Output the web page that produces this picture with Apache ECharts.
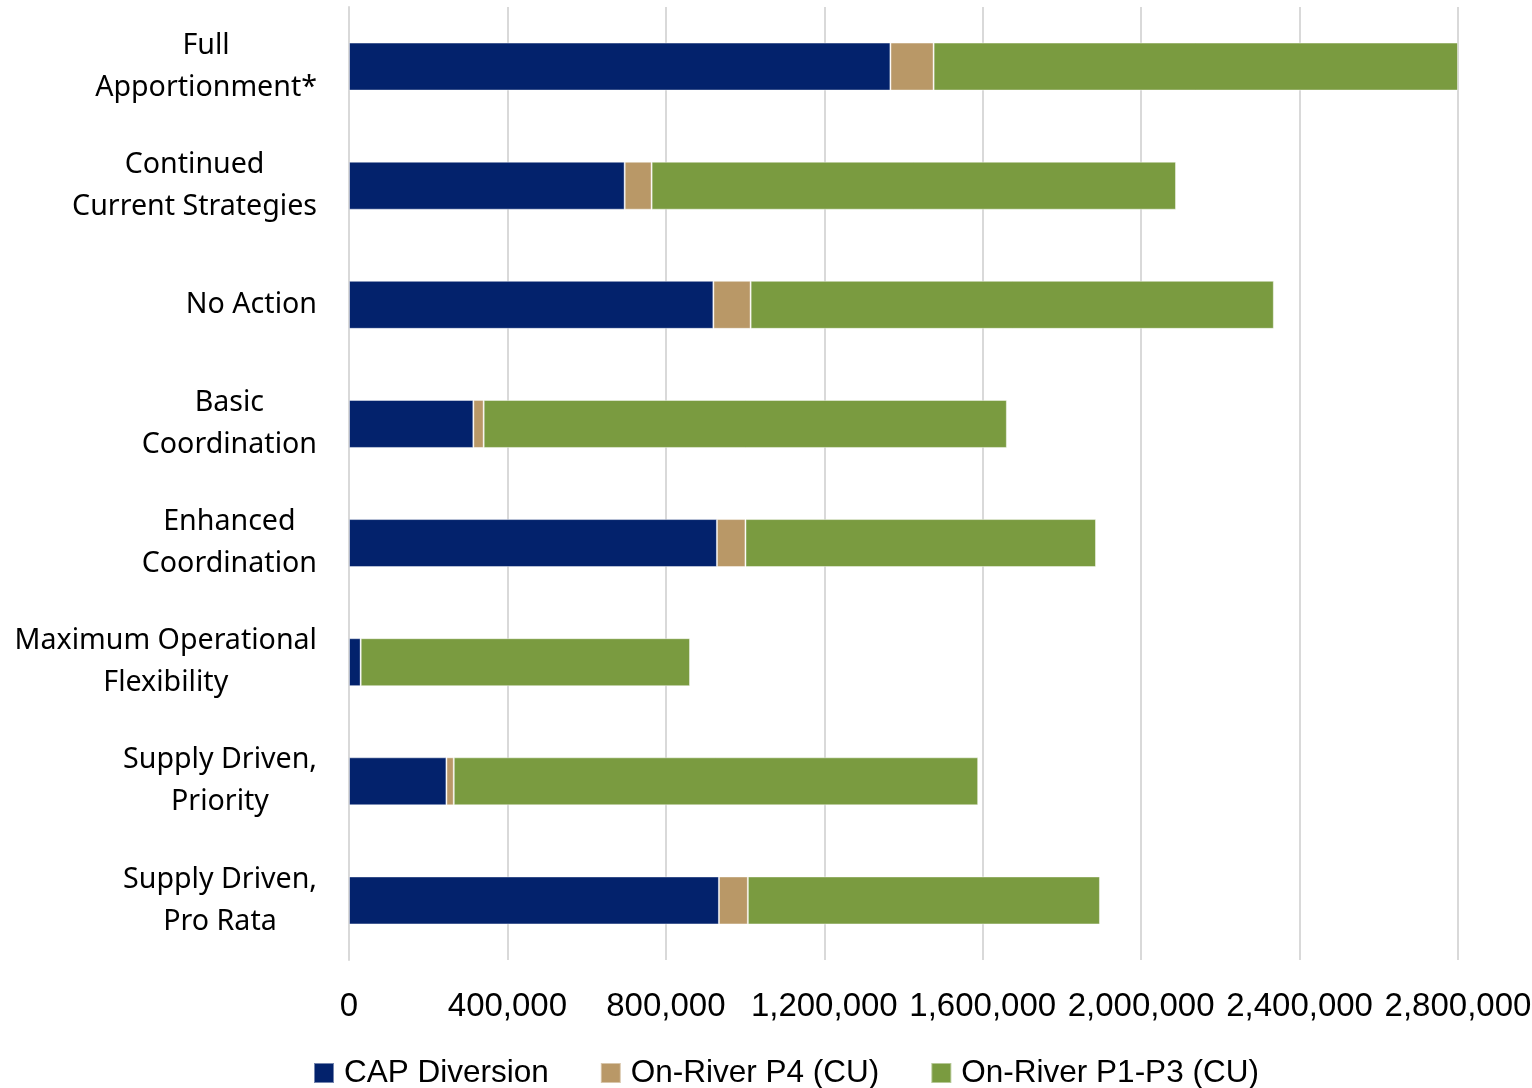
<!DOCTYPE html>
<html>
<head>
<meta charset="utf-8">
<script src="https://cdn.jsdelivr.net/npm/echarts@6/dist/echarts.min.js"></script>
<style>
html,body{margin:0;padding:0;background:#fff;}
#chart{width:1532px;height:1088px;}
</style>
</head>
<body>
<div id="chart"></div>
<script>
const categories = [
  "Full\nApportionment*",
  "Continued\nCurrent Strategies",
  "No Action",
  "Basic\nCoordination",
  "Enhanced\nCoordination",
  "Maximum Operational\nFlexibility",
  "Supply Driven,\nPriority",
  "Supply Driven,\nPro Rata"
];
const seriesNames = ["CAP Diversion", "On-River P4 (CU)", "On-River P1-P3 (CU)"];
const capDiversion = [1367000, 696000, 920000, 314000, 929000, 29500, 246000, 934000];
const onRiverP4 = [109000, 68000, 94000, 26000, 72000, 0, 18500, 73000];
const onRiverP1P3 = [1324000, 1324000, 1321000, 1321000, 885000, 831500, 1324000, 889000];
const xTicks = [0, 400000, 800000, 1200000, 1600000, 2000000, 2400000, 2800000];

const colors = ["#03226C", "#B99867", "#7A9B40"];
const catFont = "'Noto Sans', sans-serif";
const numFont = "'Liberation Sans', Arial, sans-serif";

const chart = echarts.init(document.getElementById('chart'));
const dataArrays = [capDiversion, onRiverP4, onRiverP1P3];

chart.setOption({
  animation: false,
  backgroundColor: '#ffffff',
  grid: { left: 349, top: 7, width: 1109, height: 953, containLabel: false, outerBoundsMode: 'none' },
  legend: {
    data: seriesNames,
    left: 308,
    top: 1052,
    itemWidth: 20,
    itemHeight: 20,
    itemGap: 51,
    icon: 'rect',
    textStyle: { fontFamily: numFont, fontSize: 31.5, color: '#000', padding: [0, 0, 0, 5] }
  },
  xAxis: {
    type: 'value',
    min: xTicks[0],
    max: xTicks[xTicks.length - 1],
    interval: xTicks[1] - xTicks[0],
    axisLine: { show: false },
    axisTick: { show: false },
    splitLine: { show: true, lineStyle: { color: '#D9D9D9', width: 2 } },
    axisLabel: {
      fontFamily: numFont, fontSize: 33, color: '#000', margin: 30,
      formatter: v => v.toLocaleString('en-US')
    }
  },
  yAxis: {
    type: 'category',
    data: categories,
    inverse: true,
    axisLine: { show: true, lineStyle: { color: '#D9D9D9', width: 2 } },
    axisTick: { show: false },
    axisLabel: {
      margin: 32,
      formatter: v => v.split('\n').map(s => '{c|' + s + '}').join('\n'),
      rich: {
        c: { fontFamily: catFont, fontSize: 28.6, color: '#000', lineHeight: 42, align: 'center' }
      }
    }
  },
  series: seriesNames.map((name, i) => ({
    name: name,
    type: 'bar',
    stack: 'total',
    barWidth: 48,
    data: dataArrays[i],
    itemStyle: { color: colors[i], borderColor: 'rgba(255,255,255,0.45)', borderWidth: 1 }
  }))
});
</script>
</body>
</html>
